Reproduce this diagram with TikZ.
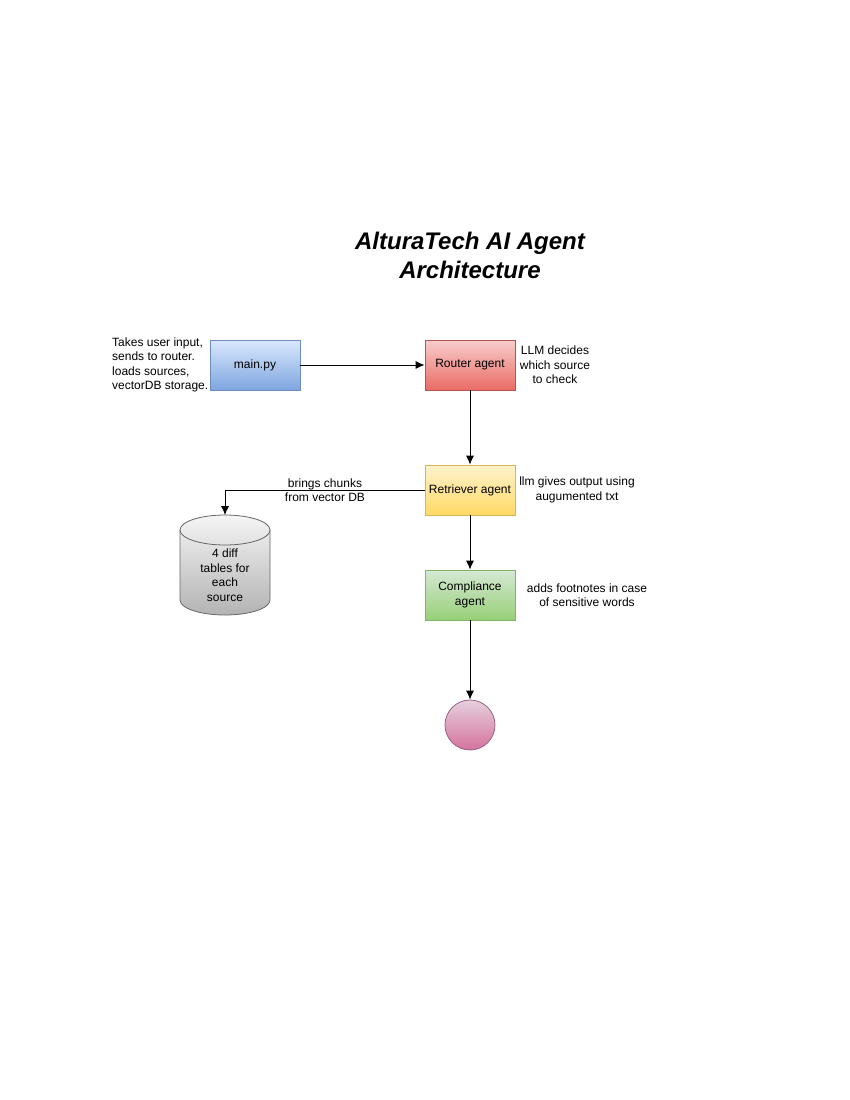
\documentclass[tikz,border=0pt]{standalone}
\usepackage{fontspec}
\setmainfont{Liberation Sans}
\usetikzlibrary{arrows.meta}
\definecolor{mainTop}{HTML}{DAE8FC}
\definecolor{mainBottom}{HTML}{7EA6E0}
\definecolor{mainLine}{HTML}{6C8EBF}
\definecolor{routerTop}{HTML}{F8CECC}
\definecolor{routerBottom}{HTML}{EA6B66}
\definecolor{routerLine}{HTML}{B85450}
\definecolor{retrieverTop}{HTML}{FFF2CC}
\definecolor{retrieverBottom}{HTML}{FFD966}
\definecolor{retrieverLine}{HTML}{D6B656}
\definecolor{complianceTop}{HTML}{D5E8D4}
\definecolor{complianceBottom}{HTML}{97D077}
\definecolor{complianceLine}{HTML}{82B366}
\definecolor{endTop}{HTML}{E6D0DE}
\definecolor{endBottom}{HTML}{D5739D}
\definecolor{endLine}{HTML}{996185}
\definecolor{dbTop}{HTML}{F5F5F5}
\definecolor{dbBottom}{HTML}{B3B3B3}
\definecolor{dbLine}{HTML}{666666}

\begin{document}
\begin{tikzpicture}[
  x=1pt, y=-1pt,
  every node/.style={
    font=\fontsize{12}{14.5}\selectfont,
  },
  agent/.style={
    rectangle,
    minimum width=90pt,
    minimum height=50pt,
    inner sep=0pt,
    line width=0.8pt,
    align=center,
  },
  note/.style={
    align=center,
    inner sep=0pt,
  },
  flow/.style={
    draw=black,
    line width=0.8pt,
    -{Latex[length=9pt,width=8pt]},
  },
  dbcap/.style={
    x radius=45, y radius=15,
  },
]
\useasboundingbox (0,0) rectangle (850,1100);

% title
\node[note, font=\fontsize{24}{29}\selectfont\bfseries\itshape] (title) at (470,255)
  {AlturaTech AI Agent\\Architecture};

% agents
\node[agent, draw=mainLine, top color=mainTop, bottom color=mainBottom] (main) at (255,365) {main.py};
\node[agent, draw=routerLine, top color=routerTop, bottom color=routerBottom] (router) at (470,365) {Router agent};
\node[agent, draw=retrieverLine, top color=retrieverTop, bottom color=retrieverBottom] (retriever) at (470,490) {Retriever agent};
\node[agent, draw=complianceLine, top color=complianceTop, bottom color=complianceBottom] (compliance) at (470,595) {Compliance\\agent};
\node[circle, draw=endLine, line width=0.8pt, top color=endTop, bottom color=endBottom,
  minimum size=50pt, inner sep=0pt] (end) at (470,725) {};

% storage (cylinder)
\draw[dbLine, line width=0.8pt, top color=dbTop, bottom color=dbBottom]
  (180,530) -- (180,600) arc[dbcap, start angle=180, end angle=0]
  -- (270,530) arc[dbcap, start angle=0, end angle=-180] -- cycle;
\draw[dbLine, line width=0.8pt] (180,530) arc[dbcap, start angle=180, end angle=0];
\coordinate (db) at (225,515);
\node[note] (dbText) at (225,575) {4 diff\\tables for\\each\\source};

% notes
\node[note, align=left, anchor=west] (mainNote) at (112,365)
  {Takes user input,\\sends to router.\\loads sources,\\vectorDB storage.};
\node[note] (routerNote) at (555,365) {LLM decides\\which source\\to check};
\node[note] (fetchNote) at (325,490) {brings chunks\\from vector DB};
\node[note] (retrieverNote) at (577,490) {llm gives output using\\augumented txt};
\node[note] (complianceNote) at (587,595) {adds footnotes in case\\of sensitive words};

% connectors
\draw[flow] (main) -- (router);
\draw[flow] (router) -- (retriever);
\draw[flow] (retriever.west) -| (db);
\draw[flow] (retriever) -- (compliance);
\draw[flow] (compliance) -- (end);
\end{tikzpicture}
\end{document}
